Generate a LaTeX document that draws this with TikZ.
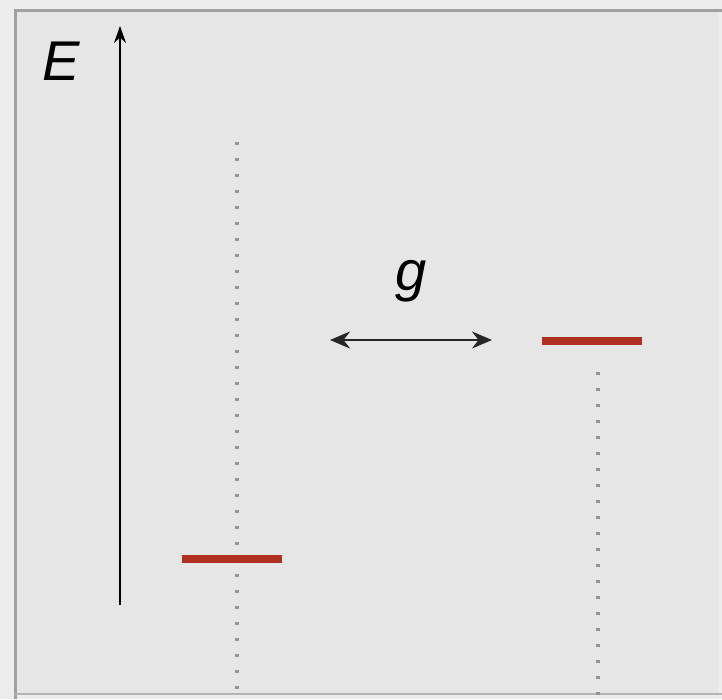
\documentclass[tikz,border=0pt]{standalone}
\usepackage{fontspec}
\setmainfont{Liberation Sans}
\usetikzlibrary{arrows.meta}
\definecolor{bg}{HTML}{E6E6E6}
\definecolor{outer}{HTML}{EDEDED}
\definecolor{frame}{HTML}{A0A0A0}
\definecolor{level}{HTML}{B0301F}
\definecolor{dotc}{HTML}{9C9090}
\tikzset{
  lvl/.style={draw=level, line width=7.5pt},
  guide/.style={draw=dotc, line width=3.2pt, dash pattern=on 3.2pt off 12.8pt},
  lab/.style={font=\itshape\fontsize{56}{56}\selectfont, inner sep=0pt},
}
\begin{document}
\begin{tikzpicture}[x=1pt,y=-1pt]
\useasboundingbox (0,0) rectangle (722,699);
\fill[outer] (0,0) rectangle (722,699);
\fill[bg] (15,10) rectangle (719,694);
\draw[frame, line width=3pt] (15,699) -- (15,10) -- (722,10);
\draw[frame!80, line width=2.5pt] (15,694) -- (722,694);
% axis
\coordinate (ab) at (120,605);
\coordinate (at) at (120,26);
\draw[line width=2pt, -{Stealth[length=17pt,width=12pt]}] (ab) -- (at);
\node[lab] (E) at (61,61) {E};
% guides
\coordinate (g1t) at (237,142);
\coordinate (g1b) at (237,699);
\coordinate (g2t) at (598,372);
\coordinate (g2b) at (598,699);
\draw[guide] (g1t) -- (g1b);
\draw[guide, draw=gray!85] (g2t) -- (g2b);
% levels
\coordinate (l1a) at (182,559);
\coordinate (l1b) at (282,559);
\coordinate (l2a) at (542,341);
\coordinate (l2b) at (642,341);
\draw[lvl] (l1a) -- (l1b);
\draw[lvl] (l2a) -- (l2b);
% coupling
\coordinate (ca) at (330,340);
\coordinate (cb) at (492,340);
\draw[line width=2.5pt, draw=black!85, {Stealth[length=20pt,width=17pt]}-{Stealth[length=20pt,width=17pt]}] (ca) -- (cb);
\node[lab] (g) at (411,281) {g};
\end{tikzpicture}
\end{document}
